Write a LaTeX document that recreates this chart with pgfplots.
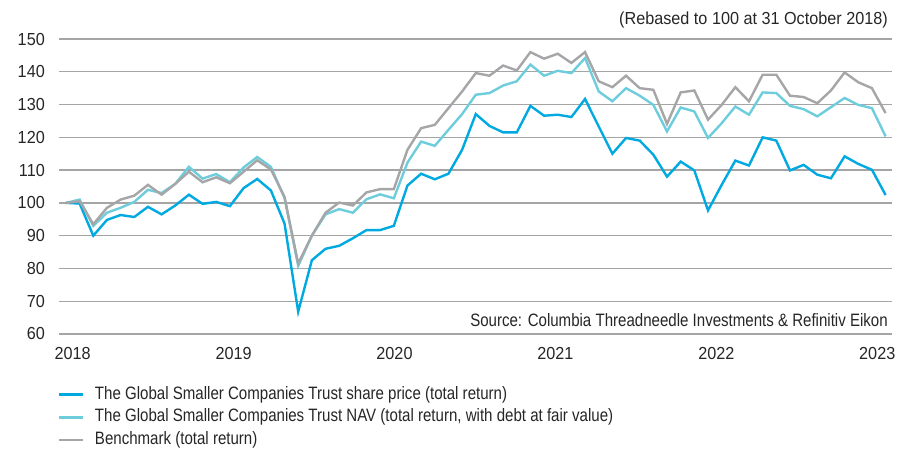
\documentclass[border=0pt]{standalone}
\usepackage{pgfplots}
\pgfplotsset{compat=1.18}
\usepackage{pgfplotstable}
\usepackage{fontspec}
\setmainfont[FakeStretch=0.84]{Liberation Sans}
\newfontfamily\tickfont[FakeStretch=0.93]{Liberation Sans}
\definecolor{spc}{RGB}{0,169,224}
\definecolor{navc}{RGB}{110,205,220}
\definecolor{bmc}{RGB}{166,166,169}
\definecolor{gridc}{RGB}{165,165,165}

\pgfplotstableread{
i sp nav bm
0 100.0 100.0 100.0
1 99.8 101.0 100.5
2 90.0 93.0 93.5
3 94.8 97.0 98.5
4 96.3 98.5 101.0
5 95.7 100.3 102.2
6 98.8 104.0 105.5
7 96.5 103.0 102.5
8 99.2 105.8 105.8
9 102.5 111.0 109.5
10 99.7 107.4 106.3
11 100.3 108.8 107.8
12 99.0 106.3 106.0
13 104.5 110.8 109.5
14 107.3 114.0 113.0
15 103.8 111.0 110.2
16 93.7 101.5 101.8
17 66.8 80.8 81.5
18 82.5 90.0 90.0
19 86.0 96.5 97.0
20 86.9 98.1 100.1
21 89.2 97.0 99.2
22 91.7 101.1 103.2
23 91.7 102.6 104.2
24 93.0 101.4 104.2
25 105.3 112.3 116.2
26 108.9 118.7 122.8
27 107.2 117.4 123.8
28 108.9 122.3 128.9
29 116.2 127.1 134.0
30 127.1 133.0 139.6
31 123.5 133.5 138.8
32 121.5 135.8 141.9
33 121.5 137.1 140.4
34 129.6 142.2 146.0
35 126.6 138.8 144.0
36 126.9 140.3 145.5
37 126.2 139.6 142.7
38 131.7 144.2 146.0
39 123.3 134.0 137.1
40 115.0 131.0 135.3
41 119.8 135.0 138.8
42 119.0 132.7 135.0
43 114.7 129.9 134.5
44 108.0 121.8 124.1
45 112.6 129.1 133.7
46 109.9 127.9 134.3
47 97.7 119.8 125.4
48 105.5 124.3 129.9
49 112.9 129.4 135.3
50 111.4 126.9 131.0
51 120.0 133.7 139.1
52 119.0 133.5 139.1
53 109.9 129.6 132.7
54 111.6 128.6 132.3
55 108.6 126.4 130.4
56 107.5 129.2 134.3
57 114.2 132.0 139.8
58 111.9 129.9 136.8
59 110.1 128.9 135.0
60 102.4 120.3 127.4
}\datatable

\begin{document}
\begin{tikzpicture}[x=1bp,y=1bp]
\useasboundingbox (-59,-115) rectangle (840,334);
\begin{axis}[
  at={(0,0)}, anchor=south west,
  scale only axis, width=833bp, height=295bp,
  xmin=-0.51, xmax=60.47, ymin=60, ymax=150,
  axis line style={draw=none}, tick style={draw=none},
  ytick={60,70,...,150},
  ymajorgrids, grid style={gridc, line width=1.4bp},
  xtick={0.49,12.27,24.05,35.83,47.61,59.39},
  xticklabels={2018,2019,2020,2021,2022,2023},
  /pgf/number format/assume math mode=true,
  tick label style={font=\tickfont\fontsize{17.5}{17.5}\selectfont, text=black!85},
  yticklabel style={anchor=east, inner sep=0pt, xshift=-14bp},
  xticklabel style={anchor=north, inner sep=0pt, yshift=-13bp},
  legend style={at={(axis description cs:-0.0012,-0.1763)}, anchor=north west,
    draw=none, fill=none, inner sep=0pt, outer sep=0pt,
    font=\fontsize{18}{18}\selectfont,
    nodes={inner sep=0pt, text=black!85, text height=13bp, text depth=4bp},
    row sep=5.8bp,
    /tikz/every even column/.style={column sep=0pt}},
  legend cell align=left,
  legend image code/.code={\draw[#1, line width=2.6bp] (0bp,0bp) -- (24bp,0bp); \path (34.5bp,0bp);},
]
\addplot[spc, line width=2.4bp] table[x=i, y=sp] {\datatable};
\addlegendentry{The Global Smaller Companies Trust share price (total return)}
\addplot[navc, line width=2.4bp] table[x=i, y=nav] {\datatable};
\addlegendentry{The Global Smaller Companies Trust NAV (total return, with debt at fair value)}
\addplot[bmc, line width=2.4bp] table[x=i, y=bm] {\datatable};
\addlegendentry{Benchmark (total return)}
\end{axis}
\node[anchor=east, inner sep=0pt, text=black!85, font=\tickfont\fontsize{17.5}{17.5}\selectfont] at (829,314) {(Rebased to 100 at 31 October 2018)};
\node[anchor=east, inner sep=0pt, text=black!85, font=\fontsize{18}{18}\selectfont] at (829,14) {Source: Columbia Threadneedle Investments \& Refinitiv Eikon};
\end{tikzpicture}
\end{document}
